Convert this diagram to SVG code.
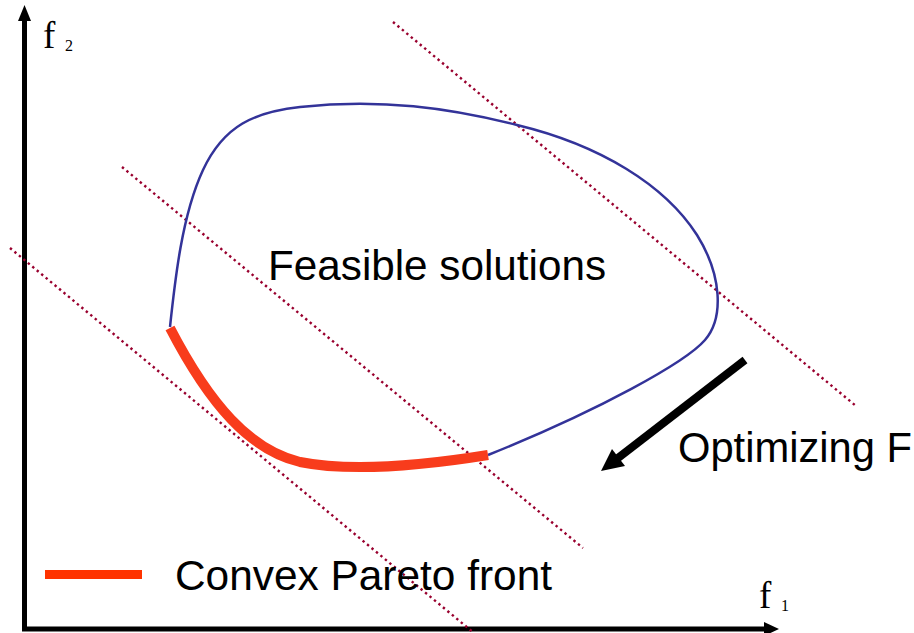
<svg xmlns="http://www.w3.org/2000/svg" width="914" height="633" viewBox="0 0 914 633">
  <style>
    .sans { font-family: "Liberation Sans", Arial, sans-serif; fill: #000; font-size: 42px; }
    .serif { font-family: "Liberation Serif", "Times New Roman", serif; fill: #000; }
    .level { fill: none; stroke: #99002e; stroke-width: 2.4; stroke-dasharray: 2.4 3.4; }
    .axis { stroke: #000; stroke-width: 5; fill: none; }
  </style>
  <rect width="914" height="633" fill="#fff"/>

  <!-- objective axes -->
  <g id="axes">
    <line class="axis" x1="24.5" y1="18" x2="24.5" y2="631"/>
    <polygon points="24.5,5 18,21 31,21" fill="#000"/>
    <line class="axis" x1="22" y1="629" x2="766" y2="629"/>
    <polygon points="779,629 764,622 764,636" fill="#000"/>
    <text class="serif" x="43" y="48" font-size="37">f</text>
    <text class="serif" x="65" y="51" font-size="16">2</text>
    <text class="serif" x="759" y="608" font-size="37">f</text>
    <text class="serif" x="781" y="611" font-size="16">1</text>
  </g>

  <!-- iso-lines of the weighted sum F -->
  <g id="level-lines">
    <line class="level" x1="10" y1="248" x2="474" y2="633"/>
    <line class="level" x1="122" y1="167" x2="583" y2="548"/>
    <line class="level" x1="393" y1="22" x2="856" y2="406"/>
  </g>

  <!-- feasible region boundary -->
  <g id="feasible-region">
    <path d="M170,327 C175,280 182,215 203,170 C224,125 255,112 300,107 C380,98 450,108 517,125 C600,145 665,185 697,235 C722,275 724,318 705,340 C686,362 600,410 488,455"
          fill="none" stroke="#333399" stroke-width="2.5"/>
    <text class="sans" x="268" y="280" textLength="338" lengthAdjust="spacingAndGlyphs">Feasible solutions</text>
  </g>

  <!-- convex Pareto front -->
  <g id="pareto-front">
    <path d="M170,328 C210,405 250,450 300,462 C350,472 420,466 488,455"
          fill="none" stroke="#f83c1c" stroke-width="10"/>
  </g>

  <!-- optimisation direction -->
  <g id="optimizing">
    <line x1="745" y1="360" x2="618" y2="458" stroke="#000" stroke-width="8"/>
    <polygon points="601,471 625,466 612,449" fill="#000"/>
    <text class="sans" x="678" y="462" textLength="234" lengthAdjust="spacingAndGlyphs">Optimizing F</text>
  </g>

  <!-- legend -->
  <g id="legend">
    <rect x="45" y="570" width="97" height="9" fill="#ff3300"/>
    <text class="sans" x="175" y="590" textLength="377" lengthAdjust="spacingAndGlyphs">Convex Pareto front</text>
  </g>
</svg>
